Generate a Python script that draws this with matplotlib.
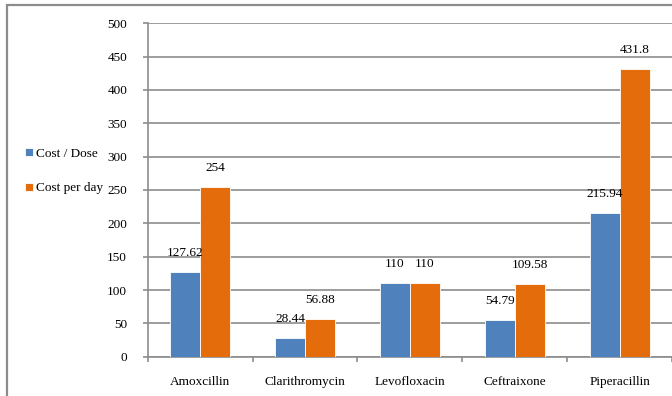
import matplotlib
matplotlib.use("Agg")
import matplotlib.pyplot as plt
from matplotlib.patches import Rectangle
import numpy as np

# Antibiotic cost comparison
drugs = ["Amoxcillin", "Clarithromycin", "Levofloxacin", "Ceftraixone", "Piperacillin"]
cost_per_dose = [127.62, 28.44, 110, 54.79, 215.94]
cost_per_day = [254, 56.88, 110, 109.58, 431.8]
series_names = ["Cost / Dose", "Cost per day"]
y_ticks = [0, 50, 100, 150, 200, 250, 300, 350, 400, 450, 500]

BLUE = "#4F81BD"
ORANGE = "#E46C0A"
GRID = "#8c8c8c"

plt.rcParams["font.family"] = ["Liberation Serif", "DejaVu Serif"]
plt.rcParams["font.size"] = 9.5

fig = plt.figure(figsize=(6.72, 3.96), dpi=100)
ax = fig.add_axes([147.7 / 672, 39.3 / 396, 1 - 147.7 / 672, 333.4 / 396])

x = np.arange(len(drugs))
w = 0.286
b1 = ax.bar(x - w / 2, cost_per_dose, w, color=BLUE, edgecolor="white",
            linewidth=0.6, label=series_names[0], zorder=3)
b2 = ax.bar(x + w / 2, cost_per_day, w, color=ORANGE, edgecolor="white",
            linewidth=0.6, label=series_names[1], zorder=3)

# value labels above each bar
for bars, vals in ((b1, cost_per_dose), (b2, cost_per_day)):
    for rect, v in zip(bars, vals):
        ax.annotate(f"{v:g}", (rect.get_x() + rect.get_width() / 2, v),
                    xytext=(0, 13.7), textcoords="offset points",
                    ha="center", va="center", zorder=4)

ax.set_xlim(-0.5, len(drugs) - 0.5)
ax.set_ylim(0, 500)
ax.set_yticks(y_ticks)
ax.yaxis.grid(True, color=GRID, linewidth=1.2, zorder=0)
ax.set_axisbelow(True)

ax.set_xticks(x)
ax.set_xticklabels(drugs)
ax.set_xticks(np.arange(len(drugs) + 1) - 0.5, minor=True)
ax.tick_params(axis="x", which="major", length=0, pad=14)
ax.tick_params(axis="x", which="minor", length=3.5, width=1.2, color=GRID)
ax.tick_params(axis="y", length=3.3, width=1.2, color=GRID, pad=11.5)

for side in ("top", "right"):
    ax.spines[side].set_visible(False)
for side in ("left", "bottom"):
    ax.spines[side].set_color(GRID)
    ax.spines[side].set_linewidth(1.2)

fig.legend(handles=[b1, b2], loc="center left", bbox_to_anchor=(25.5 / 672, 1 - 171 / 396),
           frameon=False, handlelength=0.55, handleheight=0.55, handletextpad=0.25,
           labelspacing=1.7, borderaxespad=0, borderpad=0)

# outer chart border
fig.add_artist(Rectangle((6.7 / 672, -0.2), 1.5, 1.2 - 5.3 / 396, transform=fig.transFigure,
                         fill=False, edgecolor="#8c8c8c", linewidth=1.6, clip_on=False))

fig.savefig("out.png", dpi=100)
